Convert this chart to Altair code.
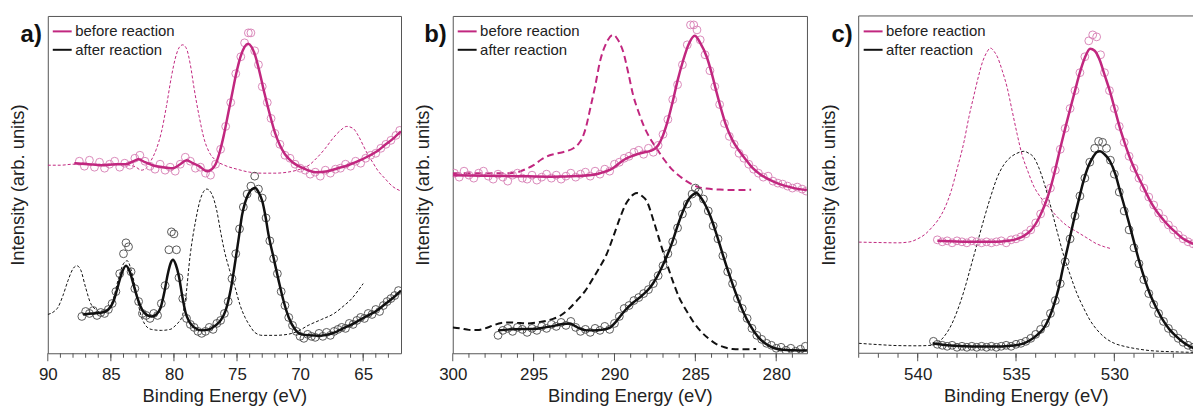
import altair as alt
import pandas as pd

# ---------------- data (binding energy in eV, intensity in arbitrary units) -------------
# Panel a)
A_FIT_BEFORE = [(87.9,191),(86.8,190),(85.7,189),(84.6,190),(83.8,190),(83.2,193),(82.8,195),(82.3,192),(81.7,189),(80.9,187),(80.1,186),(79.5,190),(79.0,194),(78.5,191),(78.0,188),(77.4,183),(77.0,185),(76.7,190),(76.4,201),(76.05,219),(75.7,241),(75.4,260),(75.05,282),(74.7,299),(74.4,308),(74.13,311),(73.85,308),(73.55,299),(73.2,282),(72.8,260),(72.4,240),(72.0,222),(71.6,209),(71.2,200),(70.6,192),(70.1,188),(69.4,184),(68.8,182),(67.8,183),(67.0,186),(66.2,189),(65.4,193),(64.6,198),(63.9,203),(63.3,209),(62.6,216),(62.0,223)]
A_FIT_AFTER = [(87.2,39),(86.5,40),(85.7,41),(85.2,44),(84.8,52),(84.47,66),(84.1,82),(83.8,88),(83.5,82),(83.16,67),(82.8,52),(82.5,43),(82.1,38),(81.8,37),(81.4,39),(81.05,46),(80.75,62),(80.5,79),(80.25,91),(80.08,94),(79.85,89),(79.6,77),(79.35,58),(79.08,41),(78.8,32),(78.4,26),(77.8,23),(77.2,24),(76.7,28),(76.3,33),(75.9,43),(75.5,64),(75.13,93),(74.85,117),(74.6,139),(74.35,152),(74.1,160),(73.8,165),(73.55,166),(73.3,162),(73.0,153),(72.75,138),(72.5,119),(72.1,96),(71.7,73),(71.3,52),(70.9,36),(70.4,24),(69.87,19),(69.2,18),(68.55,17.5),(67.9,18.5),(67.24,21),(66.6,25),(65.9,29),(65.2,34),(64.6,38),(63.9,43),(63.3,49),(62.6,56),(62.0,63)]
A_DASH_BEFORE = [(90,189),(89,189),(88,190),(87,190),(86,190),(85,190),(84,190),(83.5,189),(83.0,187),(82.6,184),(82.2,186),(81.8,194),(81.4,205),(81.0,222),(80.6,248),(80.2,278),(79.9,296),(79.6,307),(79.3,310),(79.0,306),(78.7,290),(78.4,266),(78.0,238),(77.6,215),(77.2,202),(76.7,194),(76.0,189),(75.0,185),(74.0,182),(73.0,181),(72.0,181),(71.0,182),(70.0,185),(69.3,189),(68.7,196),(68.0,206),(67.4,216),(66.8,224),(66.3,228),(65.8,226),(65.4,219),(65.0,209),(64.6,199),(64.3,193),(63.8,183),(63.3,176),(62.7,168),(62.0,163)]
A_DASH_AFTER = [(90,39),(89.5,42),(89.2,46),(88.8,58),(88.4,73),(88.0,85),(87.7,88),(87.4,84),(87.0,66),(86.6,50),(86.2,44),(85.7,41),(85.2,44),(84.8,55),(84.4,75),(84.0,90),(83.7,93),(83.4,84),(83.0,62),(82.7,42),(82.3,29),(81.8,24),(81.0,23),(80.3,24),(79.8,29),(79.35,37),(79.1,53),(78.7,100),(78.3,132),(77.9,155),(77.4,165),(77.0,160),(76.6,143),(76.3,122),(76.0,103),(75.6,84),(75.15,66),(74.75,48),(74.36,36),(73.9,26),(73.6,21),(73.0,18),(72.0,18),(71.0,19),(70.2,22),(69.36,28),(68.3,34),(67.3,40),(66.6,47),(65.9,55),(65.4,63),(65.0,70)]
A_MK_BEFORE = [(87.5,193),(87.1,188),(86.7,194),(86.3,187),(85.9,192),(85.5,186),(85.1,190),(84.7,193),(84.3,187),(83.9,191),(83.5,189),(83.1,196),(82.7,199),(82.3,193),(81.9,188),(81.5,185),(81.1,190),(80.7,184),(80.3,187),(79.9,183),(79.5,190),(79.1,197),(78.7,193),(78.3,186),(77.9,187),(77.5,181),(77.1,179),(76.7,190),(76.3,205),(75.9,228),(75.5,252),(75.1,281),(74.7,298),(74.4,312),(74.1,322),(73.9,322),(73.6,304),(73.3,290),(73.0,268),(72.6,252),(72.3,236),(72.0,221),(71.6,210),(71.2,199),(70.8,196),(70.4,190),(70.0,186),(69.6,184),(69.2,180),(68.8,182),(68.4,178),(68.0,184),(67.6,181),(67.2,185),(66.8,186),(66.4,190),(66.0,188),(65.6,193),(65.2,191),(64.8,196),(64.4,199),(64.0,201),(63.6,206),(63.2,210),(62.8,214),(62.4,219),(62.1,224)]
A_MK_AFTER = [(87.3,37),(87.0,42),(86.7,40),(86.4,43),(86.1,38),(85.8,41),(85.5,40),(85.2,44),(84.9,50),(84.6,62),(84.3,80),(84.0,100),(83.8,111),(83.6,107),(83.4,82),(83.1,65),(82.8,52),(82.5,40),(82.2,38),(81.9,35),(81.6,40),(81.3,38),(81.0,50),(80.7,68),(80.4,104),(80.2,122),(80.0,120),(79.8,104),(79.6,76),(79.3,55),(79.0,35),(78.7,29),(78.4,26),(78.1,22),(77.8,20),(77.5,22),(77.2,26),(76.9,24),(76.6,30),(76.3,33),(76.0,40),(75.7,52),(75.4,75),(75.1,100),(74.8,125),(74.5,147),(74.2,160),(73.9,168),(73.6,178),(73.3,165),(73.0,156),(72.7,136),(72.4,113),(72.1,95),(71.8,80),(71.5,62),(71.2,48),(70.9,36),(70.6,28),(70.3,22),(70.0,17),(69.7,15),(69.4,19),(69.1,17),(68.8,16),(68.5,20),(68.2,17),(67.9,21),(67.6,18),(67.3,22),(67.0,24),(66.7,26),(66.4,25),(66.1,30),(65.8,29),(65.5,33),(65.2,36),(64.9,35),(64.6,40),(64.3,39),(64.0,44),(63.7,42),(63.4,48),(63.1,52),(62.8,55),(62.5,58),(62.2,63)]

# Panel b)
B_FIT_BEFORE = [(300,179),(298,178.5),(296,178),(294,177.5),(292,178.5),(291,180.5),(290.5,183),(290.1,186),(289.7,191),(289.25,196),(288.8,199),(288.4,201),(288.0,202.5),(287.6,204.5),(287.3,209),(287.0,219),(286.7,234),(286.4,253),(286.1,274),(285.76,294),(285.4,311),(285.04,319),(284.7,312),(284.3,298),(284.0,282),(283.7,263),(283.4,245),(283.1,229),(282.7,214),(282.27,203),(281.85,194),(281.45,186),(281.0,180),(280.6,176),(280.1,172),(279.6,169),(278.9,166),(278.1,164)]
B_FIT_AFTER = [(297.2,23),(296.5,24),(295.8,24.5),(295.0,24.5),(294.3,26),(293.6,28),(293.2,29.5),(292.75,30),(292.4,27),(292.1,24.5),(291.7,23),(291.3,23),(290.8,23.5),(290.3,25.5),(290.0,30),(289.7,36),(289.3,44),(288.84,51),(288.3,58),(287.8,66),(287.4,76),(287.0,89),(286.7,100),(286.4,113),(286.1,128),(285.76,143),(285.4,155),(285.1,160),(284.94,161),(284.6,155),(284.35,148),(284.1,139),(283.7,120),(283.3,99),(282.9,79),(282.47,59),(282.05,42),(281.65,29),(281.1,16),(280.6,9),(280.1,5),(279.6,3.5),(278.9,3),(278.1,2.7)]
B_DASH_BEFORE = [(300,181),(298,181),(296.5,181),(296.0,182),(295.5,185),(295.0,189),(294.5,195),(294.0,199),(293.5,201),(293.0,203),(292.54,206),(292.2,211),(292.0,216),(291.75,228),(291.5,246),(291.2,268),(290.9,293),(290.5,312),(290.08,320),(289.75,314),(289.46,303),(289.15,282),(288.84,259),(288.5,242),(288.2,229),(287.8,216),(287.4,206),(286.9,194),(286.4,184),(285.9,177),(285.35,171),(284.8,167),(284.3,165.5),(283.5,164.5),(282.7,164),(281.55,164.3)]
B_DASH_AFTER = [(300,26),(299.5,25),(299.0,23.5),(298.5,23.3),(298.0,25),(297.5,28),(297.0,30.5),(296.5,31),(296.0,30.5),(295.4,30),(294.8,31),(294.2,32.7),(293.8,34.5),(293.36,37.7),(292.85,44),(292.34,52.7),(291.8,63),(291.3,76),(290.9,87),(290.5,99),(290.1,116),(289.66,136),(289.3,150),(289.05,156),(288.8,160),(288.6,161),(288.3,158),(288.0,152.7),(287.6,134),(287.2,112.7),(286.8,92),(286.4,72.7),(286.0,56),(285.55,42.7),(285.1,31),(284.7,22.7),(284.2,15),(283.7,9.3),(283.2,6),(282.7,4.3),(282.0,4),(281.24,4.3)]
B_MK_BEFORE = [(299.9,181),(299.6,177),(299.3,183),(299.0,179),(298.7,176),(298.4,181),(298.1,183),(297.8,178),(297.5,175),(297.2,180),(296.9,177),(296.6,173),(296.3,179),(296.0,181),(295.7,176),(295.4,175),(295.1,179),(294.8,174),(294.5,177),(294.2,180),(293.9,176),(293.6,179),(293.3,175),(293.0,178),(292.7,181),(292.4,177),(292.1,180),(291.8,182),(291.5,178),(291.2,183),(290.9,180),(290.6,185),(290.3,183),(290.0,190),(289.7,192),(289.4,196),(289.1,198),(288.8,202),(288.5,204),(288.2,200),(287.9,206),(287.6,202),(287.3,209),(287.0,220),(286.7,235),(286.4,255),(286.1,270),(285.8,290),(285.5,310),(285.3,330),(285.1,330),(284.9,325),(284.7,315),(284.4,300),(284.1,284),(283.8,268),(283.5,250),(283.2,231),(282.9,218),(282.6,210),(282.3,201),(282.0,196),(281.7,190),(281.4,185),(281.1,181),(280.8,177),(280.5,178),(280.2,173),(279.9,171),(279.6,170),(279.3,168),(279.0,166),(278.7,167),(278.4,165),(278.15,163)]
B_MK_AFTER = [(297.2,18),(296.9,23),(296.6,25),(296.3,22),(296.0,26),(295.7,24),(295.4,21),(295.1,25),(294.8,23),(294.5,27),(294.2,25),(293.9,29),(293.6,27),(293.3,31),(293.0,28),(292.7,32),(292.4,26),(292.1,22),(291.8,24),(291.5,21),(291.2,25),(290.9,23),(290.6,27),(290.3,24),(290.0,30),(289.7,37),(289.4,45),(289.1,48),(288.8,53),(288.5,56),(288.2,60),(287.9,64),(287.6,70),(287.3,78),(287.0,88),(286.7,100),(286.4,112),(286.1,126),(285.8,140),(285.5,150),(285.2,160),(285.0,166),(284.8,162),(284.5,155),(284.2,143),(283.9,128),(283.6,115),(283.3,98),(283.0,82),(282.7,70),(282.4,55),(282.1,45),(281.8,35),(281.5,25),(281.2,18),(280.9,14),(280.6,10),(280.3,8),(280.0,5),(279.7,6),(279.4,3),(279.1,5),(278.8,2),(278.5,4),(278.2,7)]

# Panel c)
C_FIT_BEFORE = [(539.0,113),(538.0,112.3),(537.0,112),(536.0,112),(535.4,113),(534.94,115),(534.6,118),(534.27,123),(534.0,130),(533.76,139),(533.5,151),(533.25,166),(533.0,185),(532.75,206),(532.5,226),(532.24,246),(532.0,264),(531.74,283),(531.5,297),(531.23,306),(531.0,304),(530.73,294),(530.5,280),(530.22,263),(530.0,247),(529.71,226),(529.45,210),(529.2,196),(528.85,180),(528.5,166),(528.2,154),(527.86,143),(527.5,134),(527.18,127),(526.85,121),(526.5,115),(526.1,111),(525.7,108)]
C_FIT_AFTER = [(539.24,10),(538.5,8),(537.64,7),(536.8,6.7),(535.95,6.7),(535.4,7.3),(534.94,8.3),(534.6,10),(534.27,13.3),(533.95,18),(533.6,25),(533.35,34),(533.1,47),(532.85,64),(532.6,87),(532.33,110),(532.07,133),(531.8,155),(531.57,173),(531.3,189),(531.06,198),(530.9,202),(530.73,203),(530.5,200),(530.22,193),(529.95,180),(529.71,163),(529.45,145),(529.2,127),(528.95,108),(528.7,90),(528.45,74),(528.2,60),(527.85,45),(527.52,33),(527.2,24),(526.85,17),(526.5,11),(526.17,7),(525.8,4)]
C_DASH_BEFORE = [(543,111.7),(542,111.3),(541,111),(540.4,112),(540,115),(539.6,120),(539.3,126),(539.0,133),(538.6,147),(538.3,163),(538.0,185),(537.64,213),(537.4,237),(537.13,260),(536.9,279),(536.7,293),(536.5,302),(536.3,306.7),(536.1,303),(535.95,298),(535.7,284),(535.45,267),(535.2,244),(534.94,220),(534.7,200),(534.4,183),(534.1,168),(533.76,157),(533.3,146),(532.9,137),(532.4,128),(531.9,122),(531.4,116),(530.9,110),(530.5,107),(530.13,105)]
C_DASH_AFTER = [(543,10),(542,8.7),(541,7.7),(540,7.5),(539.3,8),(538.95,11),(538.65,17),(538.3,28),(537.98,43),(537.64,63),(537.3,87),(536.95,112),(536.6,137),(536.28,158),(535.95,177),(535.6,190),(535.28,197),(534.95,201),(534.6,203),(534.35,201),(534.1,197),(533.85,187),(533.6,173),(533.35,156),(533.1,137),(532.85,118),(532.6,100),(532.25,79),(531.9,60),(531.55,45),(531.23,33),(530.9,24),(530.56,17),(530.0,10),(529.5,7),(528.8,4.3),(528.2,2.7),(527.0,1.5),(525.8,0.8)]
C_MK_BEFORE = [(539.0,114),(538.75,112),(538.5,113),(538.25,111),(538.0,113),(537.75,112),(537.5,111),(537.25,113),(537.0,112),(536.75,111),(536.5,112),(536.25,111),(536.0,112),(535.75,113),(535.5,111),(535.25,114),(535.0,115),(534.75,117),(534.5,120),(534.25,124),(534.0,131),(533.75,140),(533.5,152),(533.25,166),(533.0,184),(532.75,205),(532.5,226),(532.25,246),(532.0,264),(531.75,282),(531.5,298),(531.3,314),(531.1,320),(530.9,318),(530.7,300),(530.5,282),(530.25,264),(530.0,246),(529.75,228),(529.5,212),(529.25,198),(529.0,186),(528.75,176),(528.5,166),(528.25,157),(528.0,149),(527.75,141),(527.5,135),(527.25,129),(527.0,124),(526.75,119),(526.5,115),(526.25,112),(526.0,110),(525.8,107)]
C_MK_AFTER = [(539.2,12),(539.0,9),(538.75,8),(538.5,7),(538.25,8),(538.0,6),(537.75,7),(537.5,6),(537.25,7),(537.0,6),(536.75,7),(536.5,6),(536.25,7),(536.0,6),(535.75,7),(535.5,8),(535.25,7),(535.0,9),(534.75,10),(534.5,12),(534.25,15),(534.0,19),(533.75,24),(533.5,30),(533.25,40),(533.0,53),(532.75,70),(532.5,92),(532.25,115),(532.0,138),(531.75,158),(531.5,176),(531.25,192),(531.0,206),(530.8,213),(530.6,212),(530.4,206),(530.2,194),(530.0,180),(529.75,162),(529.5,143),(529.25,124),(529.0,106),(528.75,90),(528.5,74),(528.25,60),(528.0,49),(527.75,40),(527.5,32),(527.25,25),(527.0,20),(526.75,15),(526.5,11),(526.25,8),(526.0,6),(525.8,4)]

# Axis ticks
A_MAJOR = [90, 85, 80, 75, 70, 65]
A_MINOR = list(range(63, 90))
B_MAJOR = [300, 295, 290, 285, 280]
B_MINOR = list(range(279, 300))
C_MAJOR = [540, 535, 530]
C_MINOR = list(range(527, 544))

LEGEND = ["before reaction", "after reaction"]
X_TITLE = "Binding Energy (eV)"
Y_TITLE = "Intensity (arb. units)"

# ---------------- styling ----------------
MAGENTA = "#c1277f"
MAG_MK = "#d77db3"
BLACK = "#111111"
BLK_MK = "#4a4a4a"
FONT = "Liberation Sans"
TXT = "#222222"
FRAME = "#555555"
H = 339


def to_df(pts):
    return pd.DataFrame(pts, columns=["E", "v"])


def panel(label, xdom, width, major, minor, fit_b, fit_a, dash_b, dash_a,
          mk_b, mk_a, dash_w, dash_pat, manual_frame=False):
    xs = alt.Scale(domain=xdom, nice=False, zero=False)
    ys = alt.Scale(domain=[0, H], nice=False, zero=False)
    xaxis = alt.Axis(title=X_TITLE, values=major, format="d", labelOverlap=False)
    yaxis = alt.Axis(title=Y_TITLE)
    X = alt.X("E:Q", scale=xs, axis=xaxis)
    Y = alt.Y("v:Q", scale=ys, axis=yaxis)

    def dash(pts, col):
        return alt.Chart(to_df(pts)).mark_line(
            color=col, strokeWidth=dash_w, strokeDash=dash_pat,
            interpolate="monotone", clip=True).encode(x=X, y=Y)

    def marks(pts, col):
        return alt.Chart(to_df(pts)).mark_point(
            shape="circle", filled=False, size=62, strokeWidth=1,
            color=col, opacity=0.9, clip=True).encode(x=X, y=Y)

    def fit(pts, col):
        return alt.Chart(to_df(pts)).mark_line(
            color=col, strokeWidth=2.5, interpolate="monotone",
            clip=True).encode(x=X, y=Y)

    tX = alt.X("t:Q", scale=xs, axis=xaxis)
    maj = alt.Chart(pd.DataFrame({"t": major})).mark_rule(
        color=FRAME, strokeWidth=1).encode(x=tX, y=alt.value(H), y2=alt.value(H + 8))
    mnr = alt.Chart(pd.DataFrame({"t": minor})).mark_rule(
        color=FRAME, strokeWidth=1).encode(x=tX, y=alt.value(H), y2=alt.value(H + 4.5))

    one = pd.DataFrame({"d": [0]})
    leg = []
    for i, (txt, col) in enumerate(zip(LEGEND, [MAGENTA, BLACK])):
        yy = 15.5 + i * 18.5
        leg.append(alt.Chart(one).mark_rule(color=col, strokeWidth=2).encode(
            x=alt.value(5), x2=alt.value(24), y=alt.value(yy)))
        leg.append(alt.Chart(one).mark_text(
            align="left", baseline="middle", font=FONT, fontSize=15,
            color=TXT).encode(x=alt.value(27.5), y=alt.value(yy), text=alt.value(txt)))
    lab = alt.Chart(one).mark_text(
        align="right", baseline="alphabetic", font=FONT, fontSize=24,
        fontWeight="bold", color="#111").encode(
        x=alt.value(-6), y=alt.value(26), text=alt.value(label))

    layers = [dash(dash_b, MAGENTA), dash(dash_a, BLACK),
              marks(mk_b, MAG_MK), marks(mk_a, BLK_MK),
              fit(fit_b, MAGENTA), fit(fit_a, BLACK), maj, mnr] + leg + [lab]
    props = dict(width=width, height=H)
    if manual_frame:
        fr = [
            alt.Chart(one).mark_rule(color=FRAME, strokeWidth=1).encode(
                x=alt.value(0), x2=alt.value(width), y=alt.value(0)),
            alt.Chart(one).mark_rule(color=FRAME, strokeWidth=1).encode(
                x=alt.value(0), x2=alt.value(width), y=alt.value(H)),
            alt.Chart(one).mark_rule(color=FRAME, strokeWidth=1).encode(
                x=alt.value(0), y=alt.value(0), y2=alt.value(H)),
        ]
        layers = layers + fr
        props["view"] = alt.ViewBackground(strokeWidth=0)
    return alt.layer(*layers).properties(**props)


pa = panel("a)", [90, 62], 355, A_MAJOR, A_MINOR, A_FIT_BEFORE, A_FIT_AFTER,
           A_DASH_BEFORE, A_DASH_AFTER, A_MK_BEFORE, A_MK_AFTER, 1, [3, 2])
pb = panel("b)", [300, 278.1], 356, B_MAJOR, B_MINOR, B_FIT_BEFORE, B_FIT_AFTER,
           B_DASH_BEFORE, B_DASH_AFTER, B_MK_BEFORE, B_MK_AFTER, 2, [7, 4])
pc = panel("c)", [543, 526.0], 336, C_MAJOR, C_MINOR, C_FIT_BEFORE, C_FIT_AFTER,
           C_DASH_BEFORE, C_DASH_AFTER, C_MK_BEFORE, C_MK_AFTER, 1, [3, 2],
           manual_frame=True)

chart = alt.hconcat(pa, pb, pc, spacing=52, bounds="flush").properties(
    padding={"left": 0, "top": 6, "right": 0, "bottom": 0}
).configure_view(
    stroke=FRAME, strokeWidth=1
).configure_axisX(
    labelFont=FONT, labelFontSize=17, labelColor=TXT, labelPadding=13,
    labelFlush=False, ticks=False, tickSize=0, domain=False, grid=False,
    titleFont=FONT, titleFontSize=18.5, titleFontWeight="normal",
    titleColor=TXT, titlePadding=4
).configure_axisY(
    labels=False, ticks=False, tickSize=0, domain=False, grid=False,
    titleFont=FONT, titleFontSize=18.5, titleFontWeight="normal",
    titleColor=TXT, titlePadding=20
)

chart.save("out.html", embed_options={"renderer": "svg", "actions": False})
